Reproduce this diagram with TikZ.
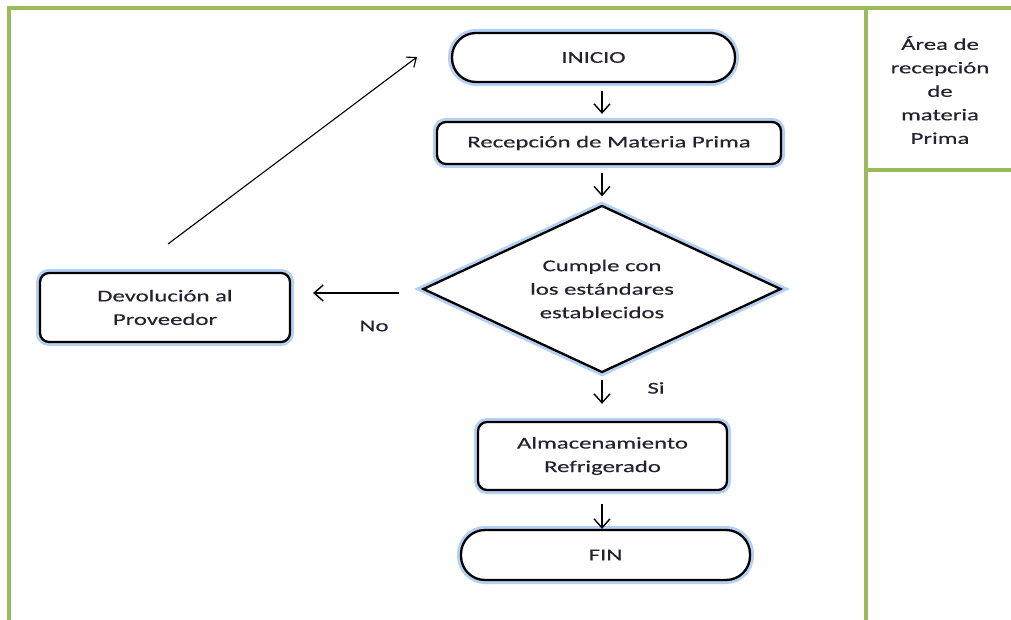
\documentclass[tikz,border=0pt]{standalone}
\usepackage{fontspec}
\setmainfont{Carlito}[FakeStretch=1.5,FakeBold=0.3]
\usetikzlibrary{shapes.geometric,arrows.meta}
\definecolor{framegreen}{HTML}{9BBB59}
\definecolor{glowblue}{HTML}{A2C4F0}
\definecolor{ink}{HTML}{26202F}

\begin{document}
\begin{tikzpicture}[x=1pt,y=-1pt,
  txt/.style={font=\fontsize{16.5}{23.5}\selectfont,text=ink,align=center},
  glow/.style={preaction={draw=glowblue,line width=8pt,opacity=0.8}},
  box/.style={txt,draw=black,line width=2.3pt,fill=white,glow,
              rounded corners=9pt,inner sep=0pt},
  term/.style={box,rounded corners=24pt},
  decision/.style={shape=diamond,draw=black,line width=2.3pt,fill=white,
                   glow,inner sep=0pt},
  flow/.style={draw=black,line width=1.4pt,
               -{Straight Barb[length=9pt,width=16pt,line width=1.4pt]}},
  frame/.style={draw=framegreen,line width=3.2pt}]
\useasboundingbox (0,0) rectangle (1011,620);

% swimlane frame
\draw[frame] (9,620) -- (9,8) -- (1011,8);
\draw[frame] (866,8) -- (866,620);
\draw[frame] (866,170) -- (1011,170);
\node[txt] (lane) at (940,90) {Área de\\recepción\\de\\materia\\Prima};

% process steps
\node[term, minimum width=283pt, minimum height=49pt] (inicio) at (593.5,57.5) {INICIO};
\node[box, minimum width=344pt, minimum height=42pt] (rec) at (609,143) {Recepción de Materia Prima};
\node[decision, minimum width=358pt, minimum height=167pt,
      label={[txt]center:Cumple con\\los estándares\\establecidos}] (cumple) at (602,289) {};
\node[box, minimum width=249pt, minimum height=68pt] (alm) at (602.5,456) {Almacenamiento\\Refrigerado};
\node[term, minimum width=289pt, minimum height=50pt] (fin) at (605.5,555) {FIN};
\node[box, minimum width=250pt, minimum height=69pt] (dev) at (165,307.5) {Devolución al\\Proveedor};

% connectors
\draw[flow, shorten <=8pt, shorten >=7pt] (inicio.south -| cumple.north) -- (rec.north -| cumple.north);
\draw[flow, shorten <=8pt, shorten >=8pt] (rec.south -| cumple.north) -- (cumple.north);
\draw[flow, shorten <=6pt, shorten >=17pt] (cumple.south) -- (alm.north -| cumple.south);
\draw[flow, shorten <=13pt, shorten >=0pt] (alm.south -| cumple.south) -- (fin.north -| cumple.south);
\coordinate (noy) at (0,293);
\draw[flow, shorten <=23pt, shorten >=22pt] (cumple.west |- noy) -- (dev.east |- noy);
\coordinate (retfrom) at (168,244);
\coordinate (retto) at (417,57);
\draw[flow, line width=1.1pt, -{Straight Barb[length=8pt,width=13pt,line width=1.1pt]}] (retfrom) -- (retto);

% branch labels
\node[txt] (si) at (656,388) {Si};
\node[txt] (no) at (374,326) {No};
\end{tikzpicture}
\end{document}
